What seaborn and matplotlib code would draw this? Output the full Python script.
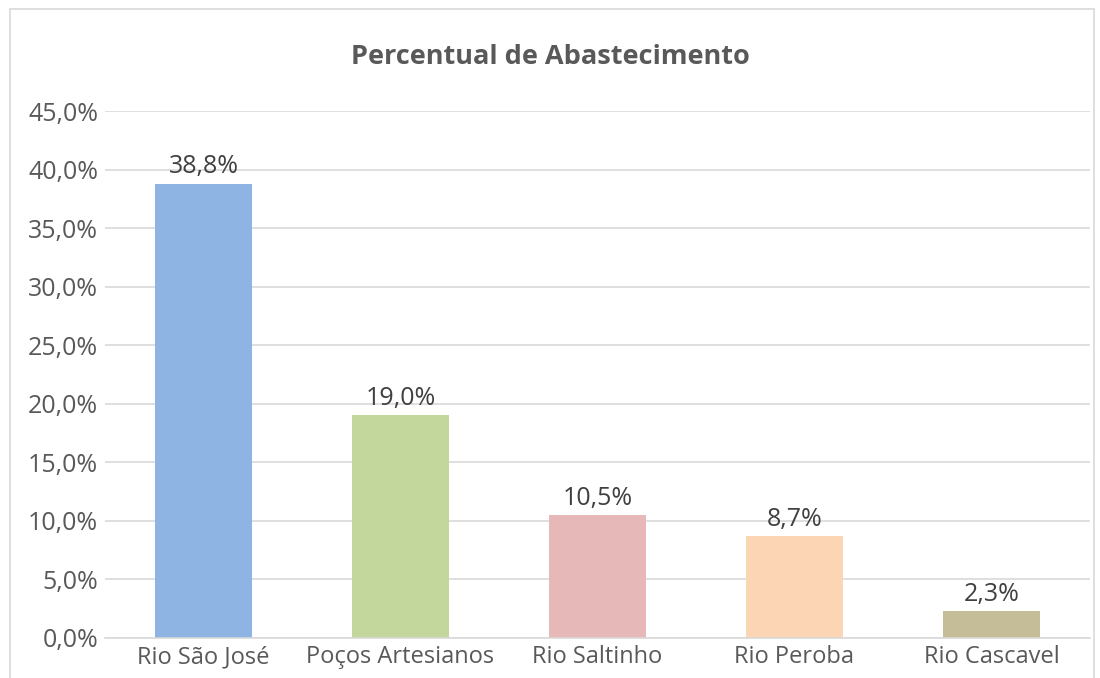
import matplotlib
matplotlib.use("Agg")
import matplotlib.pyplot as plt
import matplotlib.patches as mpatches
from matplotlib.ticker import MultipleLocator, FuncFormatter
import seaborn as sns
import pandas as pd

categories = ["Rio São José", "Poços Artesianos", "Rio Saltinho", "Rio Peroba", "Rio Cascavel"]
values = [38.8, 19.0, 10.5, 8.7, 2.3]
colors = ["#8EB4E3", "#C3D69B", "#E6B9B8", "#FCD5B5", "#C4BD97"]
title = "Percentual de Abastecimento"

sns.set_theme(style="white")
plt.rcParams["font.family"] = ["Open Sans", "DejaVu Sans"]

df = pd.DataFrame({"fonte": categories, "percentual": values})

fig = plt.figure(figsize=(11, 6.78), dpi=100)
ax = fig.add_axes([105 / 1100, 1 - 638 / 678, (1090 - 105) / 1100, (638 - 111) / 678])

sns.barplot(data=df, x="fonte", y="percentual", hue="fonte", palette=colors,
            width=0.49, legend=False, ax=ax, saturation=1, linewidth=0)

ax.set_ylim(0, 45)
ax.set_xlim(-0.5, len(categories) - 0.5)
ax.yaxis.set_major_locator(MultipleLocator(5))
ax.yaxis.set_major_formatter(FuncFormatter(lambda v, _: f"{v:.1f}%".replace(".", ",")))
ax.grid(axis="y", color="#D9D9D9", linewidth=1.2)
ax.set_axisbelow(True)
for s in ["top", "right", "left"]:
    ax.spines[s].set_visible(False)
ax.spines["bottom"].set_color("#D9D9D9")
ax.spines["bottom"].set_linewidth(1.2)
ax.set_xlabel("")
ax.set_ylabel("")
ax.tick_params(axis="both", length=0, labelcolor="#595959")
ax.tick_params(axis="y", pad=5, labelsize=18)
ax.tick_params(axis="x", pad=5, labelsize=17)

for container in ax.containers:
    ax.bar_label(container, labels=[f"{v:.1f}%".replace(".", ",") for v in container.datavalues],
                 padding=3, fontsize=18, color="#404040")

fig.text(0.5, 1 - 57 / 678, title, ha="center", va="center", fontsize=19.5,
         fontweight="bold", color="#595959")

fig.patches.append(mpatches.Rectangle((10 / 1100, -0.01), (1094 - 10) / 1100, 1 - 9 / 678 + 0.01,
                                      transform=fig.transFigure, fill=False,
                                      edgecolor="#D9D9D9", linewidth=1.2))

fig.savefig("out.png", dpi=100, facecolor="white")
